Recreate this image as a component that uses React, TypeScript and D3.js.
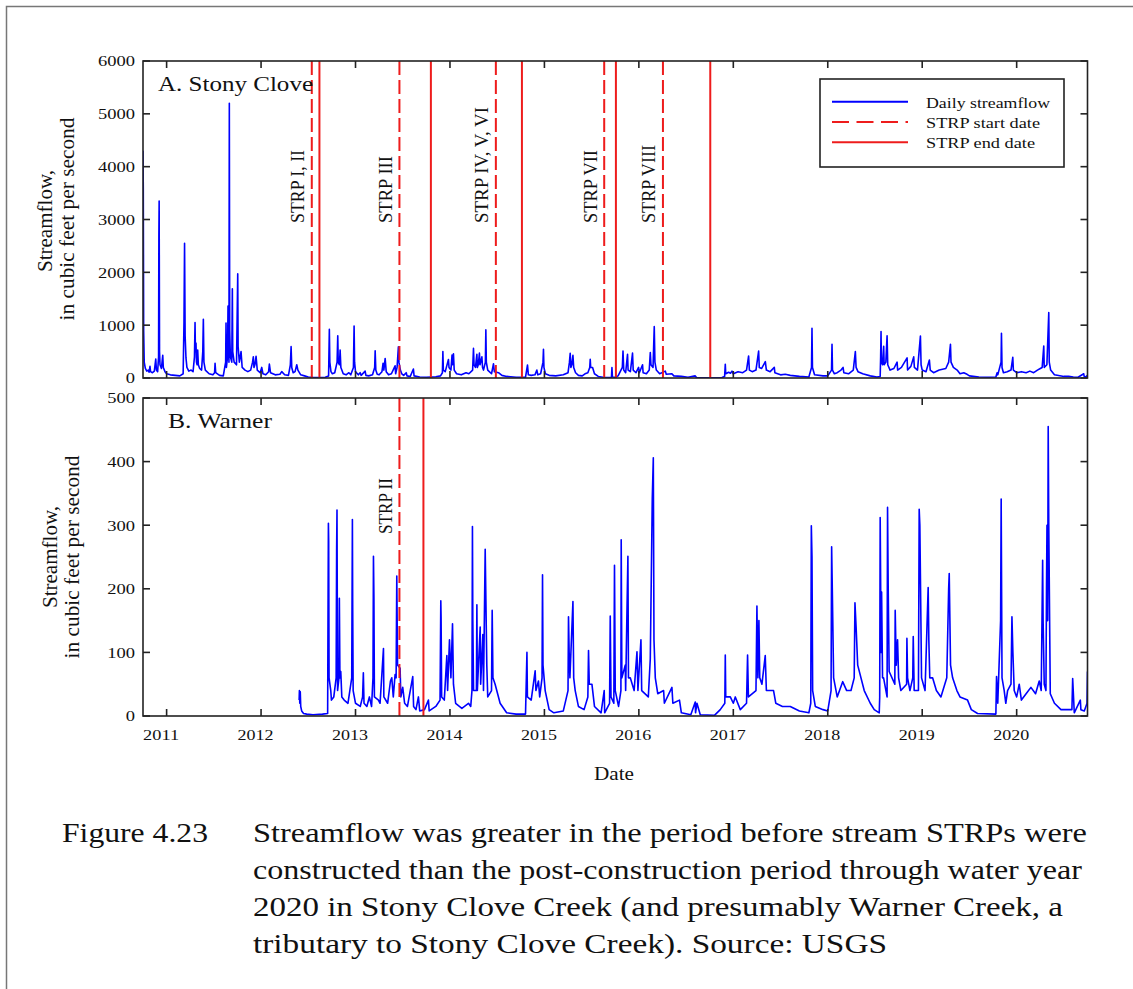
import React from 'react';
import * as d3 from 'd3';

// ---------- DATA (decimal years, cubic feet per second) ----------
const stonyClove: [number, number][] = [
  [2010.75,4300],[2010.753,3600],[2010.757,900],[2010.763,300],[2010.775,180],[2010.79,130],[2010.805,150],[2010.815,110],[2010.824,220],[2010.83,120],[2010.85,100],[2010.87,130],[2010.885,360],[2010.892,150],[2010.905,120],[2010.915,400],[2010.918,2700],[2010.921,3350],[2010.925,500],[2010.93,250],[2010.945,180],[2010.959,430],[2010.965,200],[2010.983,120],[2011.0,80],[2011.04,60],[2011.09,50],[2011.14,40],[2011.175,80],[2011.184,1050],[2011.19,2550],[2011.196,800],[2011.205,380],[2011.215,200],[2011.235,130],[2011.26,150],[2011.28,120],[2011.295,400],[2011.301,1050],[2011.305,500],[2011.311,660],[2011.316,300],[2011.323,250],[2011.329,530],[2011.336,250],[2011.35,180],[2011.37,150],[2011.383,500],[2011.389,1110],[2011.395,300],[2011.41,150],[2011.45,80],[2011.49,60],[2011.508,100],[2011.513,280],[2011.52,100],[2011.56,50],[2011.6,40],[2011.625,300],[2011.629,1040],[2011.633,200],[2011.645,400],[2011.65,1360],[2011.66,300],[2011.664,5200],[2011.668,900],[2011.675,400],[2011.69,300],[2011.696,1690],[2011.70,500],[2011.715,300],[2011.74,250],[2011.753,1970],[2011.757,600],[2011.77,300],[2011.788,500],[2011.80,200],[2011.83,150],[2011.86,120],[2011.89,150],[2011.91,300],[2011.918,400],[2011.925,200],[2011.935,250],[2011.947,410],[2011.96,150],[2011.99,100],[2012.007,200],[2012.02,80],[2012.05,60],[2012.08,120],[2012.088,265],[2012.10,100],[2012.15,60],[2012.2,70],[2012.219,120],[2012.25,60],[2012.29,50],[2012.31,250],[2012.318,593],[2012.325,200],[2012.34,100],[2012.36,120],[2012.378,250],[2012.39,150],[2012.42,60],[2012.46,40],[2012.5,20],[2012.55,12],[2012.6,10],[2012.68,15],[2012.715,40],[2012.72,600],[2012.723,920],[2012.728,300],[2012.74,120],[2012.755,80],[2012.78,100],[2012.805,300],[2012.812,800],[2012.817,300],[2012.83,250],[2012.837,530],[2012.845,200],[2012.87,80],[2012.9,60],[2012.93,100],[2012.95,60],[2012.978,200],[2012.985,985],[2012.99,300],[2013.0,120],[2013.03,60],[2013.049,100],[2013.06,50],[2013.102,130],[2013.11,50],[2013.14,40],[2013.18,60],[2013.203,200],[2013.208,517],[2013.215,150],[2013.23,70],[2013.25,60],[2013.28,120],[2013.292,280],[2013.3,150],[2013.314,370],[2013.325,120],[2013.35,60],[2013.38,80],[2013.419,230],[2013.425,80],[2013.44,200],[2013.454,590],[2013.46,300],[2013.475,150],[2013.49,80],[2013.51,50],[2013.537,100],[2013.545,40],[2013.58,30],[2013.613,170],[2013.62,40],[2013.68,20],[2013.75,15],[2013.8,20],[2013.85,25],[2013.9,40],[2013.92,100],[2013.925,500],[2013.93,150],[2013.95,120],[2013.984,350],[2013.99,200],[2014.01,150],[2014.022,435],[2014.027,250],[2014.037,460],[2014.045,150],[2014.07,80],[2014.12,60],[2014.17,100],[2014.2,80],[2014.24,150],[2014.249,560],[2014.255,250],[2014.27,200],[2014.285,450],[2014.29,200],[2014.3,250],[2014.312,470],[2014.318,250],[2014.338,400],[2014.345,200],[2014.355,150],[2014.375,300],[2014.38,910],[2014.385,300],[2014.4,150],[2014.44,80],[2014.461,270],[2014.47,120],[2014.514,100],[2014.55,50],[2014.6,30],[2014.7,15],[2014.8,15],[2014.821,246],[2014.83,60],[2014.86,50],[2014.9,60],[2014.92,150],[2014.93,60],[2014.96,80],[2014.985,300],[2014.99,543],[2014.995,200],[2015.01,80],[2015.05,50],[2015.12,40],[2015.2,60],[2015.25,100],[2015.265,300],[2015.273,467],[2015.28,200],[2015.29,250],[2015.302,430],[2015.31,200],[2015.33,100],[2015.36,50],[2015.4,40],[2015.43,80],[2015.46,100],[2015.48,200],[2015.485,354],[2015.49,200],[2015.51,200],[2015.53,80],[2015.57,30],[2015.62,15],[2015.66,10],[2015.71,15],[2015.715,200],[2015.72,20],[2015.75,15],[2015.78,40],[2015.825,200],[2015.832,511],[2015.84,150],[2015.86,100],[2015.88,450],[2015.886,150],[2015.91,120],[2015.933,470],[2015.94,150],[2015.97,100],[2015.997,200],[2016.005,100],[2016.039,250],[2016.045,100],[2016.08,80],[2016.11,150],[2016.121,480],[2016.128,250],[2016.15,200],[2016.163,972],[2016.17,300],[2016.185,150],[2016.22,80],[2016.28,130],[2016.29,70],[2016.35,80],[2016.37,40],[2016.45,30],[2016.52,15],[2016.597,40],[2016.61,10],[2016.7,5],[2016.8,5],[2016.88,10],[2016.908,30],[2016.915,260],[2016.92,80],[2016.95,110],[2016.97,90],[2016.986,130],[2017.0,80],[2017.05,120],[2017.1,100],[2017.14,150],[2017.162,417],[2017.17,150],[2017.2,120],[2017.24,150],[2017.268,511],[2017.275,200],[2017.3,180],[2017.339,310],[2017.35,150],[2017.39,120],[2017.434,200],[2017.44,100],[2017.5,60],[2017.55,70],[2017.603,50],[2017.7,30],[2017.8,20],[2017.828,200],[2017.833,941],[2017.838,200],[2017.86,60],[2017.95,40],[2018.0,40],[2018.04,150],[2018.045,637],[2018.05,150],[2018.07,80],[2018.1,100],[2018.14,150],[2018.162,200],[2018.17,100],[2018.22,80],[2018.27,150],[2018.292,500],[2018.30,200],[2018.32,120],[2018.37,80],[2018.45,40],[2018.52,20],[2018.555,30],[2018.56,400],[2018.564,880],[2018.568,300],[2018.58,250],[2018.592,600],[2018.597,250],[2018.615,300],[2018.628,800],[2018.635,250],[2018.66,150],[2018.7,180],[2018.734,300],[2018.74,150],[2018.78,200],[2018.84,380],[2018.845,150],[2018.88,220],[2018.91,400],[2018.917,200],[2018.95,150],[2018.981,795],[2018.988,250],[2019.0,150],[2019.04,120],[2019.076,340],[2019.085,150],[2019.12,100],[2019.18,150],[2019.25,180],[2019.28,300],[2019.299,637],[2019.305,300],[2019.33,200],[2019.37,150],[2019.4,80],[2019.44,100],[2019.475,70],[2019.5,40],[2019.6,20],[2019.7,15],[2019.78,20],[2019.793,100],[2019.8,60],[2019.835,300],[2019.839,846],[2019.845,200],[2019.86,100],[2019.9,120],[2019.94,150],[2019.959,392],[2019.965,150],[2020.0,100],[2020.05,120],[2020.1,100],[2020.14,130],[2020.18,100],[2020.22,150],[2020.25,180],[2020.27,200],[2020.287,606],[2020.292,200],[2020.32,250],[2020.34,1237],[2020.345,300],[2020.36,150],[2020.4,60],[2020.5,30],[2020.55,30],[2020.6,20],[2020.65,15],[2020.71,80],[2020.715,30],[2020.73,20],[2020.75,50]
];

const warner: [number, number][] = [
  [2012.403,25],[2012.406,40],[2012.41,20],[2012.415,38],[2012.42,15],[2012.43,8],[2012.45,4],[2012.484,3],[2012.55,2],[2012.65,3],[2012.705,4],[2012.71,200],[2012.713,303],[2012.716,275],[2012.72,60],[2012.738,40],[2012.745,25],[2012.77,30],[2012.795,60],[2012.8,260],[2012.804,324],[2012.81,40],[2012.825,60],[2012.829,185],[2012.835,60],[2012.844,70],[2012.855,30],[2012.88,25],[2012.92,20],[2012.96,60],[2012.967,309],[2012.97,175],[2012.975,40],[2013.0,20],[2013.05,15],[2013.075,30],[2013.083,68],[2013.09,20],[2013.12,15],[2013.147,30],[2013.17,15],[2013.185,60],[2013.19,251],[2013.195,185],[2013.2,30],[2013.243,25],[2013.26,20],[2013.296,106],[2013.3,30],[2013.34,20],[2013.37,55],[2013.384,60],[2013.4,30],[2013.419,65],[2013.43,60],[2013.437,220],[2013.445,80],[2013.472,75],[2013.48,30],[2013.5,45],[2013.52,20],[2013.55,15],[2013.606,62],[2013.615,15],[2013.64,10],[2013.666,30],[2013.68,8],[2013.73,10],[2013.772,25],[2013.78,8],[2013.85,15],[2013.895,25],[2013.903,181],[2013.906,155],[2013.912,30],[2013.94,25],[2013.967,95],[2013.975,40],[2013.995,120],[2014.01,60],[2014.027,145],[2014.037,50],[2014.06,20],[2014.126,12],[2014.196,20],[2014.22,15],[2014.233,40],[2014.238,298],[2014.242,150],[2014.25,40],[2014.28,40],[2014.285,175],[2014.29,40],[2014.32,140],[2014.325,50],[2014.348,128],[2014.355,40],[2014.373,262],[2014.39,80],[2014.40,30],[2014.44,40],[2014.447,166],[2014.455,60],[2014.478,50],[2014.531,20],[2014.6,5],[2014.7,3],[2014.8,3],[2014.815,100],[2014.82,30],[2014.86,25],[2014.902,71],[2014.91,40],[2014.937,55],[2014.95,30],[2014.975,60],[2014.98,222],[2014.985,80],[2015.008,40],[2015.05,10],[2015.1,5],[2015.2,8],[2015.25,40],[2015.255,156],[2015.262,100],[2015.27,60],[2015.302,180],[2015.31,60],[2015.326,40],[2015.36,15],[2015.42,10],[2015.46,30],[2015.467,103],[2015.475,50],[2015.503,50],[2015.53,15],[2015.6,5],[2015.633,40],[2015.638,5],[2015.69,20],[2015.697,157],[2015.705,30],[2015.735,20],[2015.742,237],[2015.75,40],[2015.785,15],[2015.81,40],[2015.813,277],[2015.82,60],[2015.856,80],[2015.86,40],[2015.884,251],[2015.89,60],[2015.909,60],[2015.95,40],[2015.98,101],[2015.99,40],[2016.022,120],[2016.03,40],[2016.1,30],[2016.121,90],[2016.142,342],[2016.153,406],[2016.16,120],[2016.174,60],[2016.2,35],[2016.262,40],[2016.27,20],[2016.35,45],[2016.36,20],[2016.43,25],[2016.45,5],[2016.55,2],[2016.597,22],[2016.6,5],[2016.615,20],[2016.65,2],[2016.8,1],[2016.862,10],[2016.91,20],[2016.915,96],[2016.92,30],[2016.968,30],[2017.0,20],[2017.021,30],[2017.074,10],[2017.14,20],[2017.151,96],[2017.16,30],[2017.24,40],[2017.25,173],[2017.26,60],[2017.271,150],[2017.28,60],[2017.303,50],[2017.338,95],[2017.35,40],[2017.426,40],[2017.45,20],[2017.52,15],[2017.603,15],[2017.7,8],[2017.8,5],[2017.82,20],[2017.826,299],[2017.833,250],[2017.84,40],[2017.868,15],[2017.95,10],[2018.0,8],[2018.035,40],[2018.041,266],[2018.048,200],[2018.062,60],[2018.1,30],[2018.158,54],[2018.2,40],[2018.246,40],[2018.28,60],[2018.288,178],[2018.3,140],[2018.317,80],[2018.386,40],[2018.45,20],[2018.492,10],[2018.545,5],[2018.55,30],[2018.555,312],[2018.565,100],[2018.57,195],[2018.58,60],[2018.591,60],[2018.628,30],[2018.633,328],[2018.64,200],[2018.65,70],[2018.71,50],[2018.714,166],[2018.725,80],[2018.739,120],[2018.75,60],[2018.774,40],[2018.835,50],[2018.838,122],[2018.845,60],[2018.87,40],[2018.9,60],[2018.905,125],[2018.915,40],[2018.96,40],[2018.968,325],[2018.975,300],[2018.993,60],[2019.03,40],[2019.063,202],[2019.07,120],[2019.08,60],[2019.11,60],[2019.15,40],[2019.198,30],[2019.26,60],[2019.28,200],[2019.286,224],[2019.3,80],[2019.322,60],[2019.367,40],[2019.4,30],[2019.48,25],[2019.52,10],[2019.586,4],[2019.78,3],[2019.787,62],[2019.8,20],[2019.83,150],[2019.836,341],[2019.845,60],[2019.868,40],[2019.885,20],[2019.904,40],[2019.94,50],[2019.95,156],[2019.96,100],[2019.974,40],[2020.0,30],[2020.027,50],[2020.05,25],[2020.1,35],[2020.151,45],[2020.2,35],[2020.239,55],[2020.26,40],[2020.275,245],[2020.28,150],[2020.292,50],[2020.31,40],[2020.316,200],[2020.321,300],[2020.328,150],[2020.334,455],[2020.34,300],[2020.356,35],[2020.4,20],[2020.469,10],[2020.54,10],[2020.585,10],[2020.593,59],[2020.61,5],[2020.674,25],[2020.68,10],[2020.716,8],[2020.745,20],[2020.75,70]
];

const stonyStrpStart = [2012.537, 2013.465, 2014.486, 2015.633, 2016.255];
const stonyStrpEnd = [2012.618, 2013.798, 2014.762, 2015.757, 2016.756];
const stonyStrpLabels = ['STRP I, II', 'STRP III', 'STRP IV, V, VI', 'STRP VII', 'STRP VIII'];
const warnerStrpStart = [2013.465];
const warnerStrpEnd = [2013.719];
const warnerStrpLabels = ['STRP II'];

const yearTicks = [2011, 2012, 2013, 2014, 2015, 2016, 2017, 2018, 2019, 2020];
const stonyYTicks = [0, 1000, 2000, 3000, 4000, 5000, 6000];
const warnerYTicks = [0, 100, 200, 300, 400, 500];
const legendLabels = ['Daily streamflow', 'STRP start date', 'STRP end date'];
const captionLabel = 'Figure 4.23';
const captionLines = [
  'Streamflow was greater in the period before stream STRPs were',
  'constructed than the post-construction period through water year',
  '2020 in Stony Clove Creek (and presumably Warner Creek, a',
  'tributary to Stony Clove Creek). Source: USGS',
];

// ---------- LAYOUT ----------
const W = 1133, H = 989;
const FONT = "'Liberation Serif', 'DejaVu Serif Condensed', 'DejaVu Serif', serif";
const BLUE = '#0000ff';
const RED = '#ee1c1c';
const left = 143, right = 1087.5;
const panels = {
  stony: { top: 61, bottom: 378 },
  warner: { top: 398, bottom: 716 },
};
const labelLen: Record<string, number> = {
  'STRP I, II': 73, 'STRP III': 67, 'STRP IV, V, VI': 116, 'STRP VII': 73, 'STRP VIII': 78, 'STRP II': 56,
};
const captionLens = [834, 829, 810, 634];
const tStyle = { fontFamily: FONT } as React.CSSProperties;

const x = d3.scaleLinear().domain([2010.75, 2020.75]).range([left, right]);

function Panel({ id, data, yMax, yTicks, top, bottom, starts, ends, labels, title, titleX, titleLen, labelEnd }: any) {
  const y = d3.scaleLinear().domain([0, yMax]).range([bottom, top]);
  const line = d3.line<[number, number]>().x(d => x(d[0])).y(d => y(d[1]));
  const tl = 7;
  return (
    <g>
      <defs>
        <clipPath id={`clip-${id}`}>
          <rect x={left} y={top} width={right - left} height={bottom - top} />
        </clipPath>
      </defs>
      <path d={line(data) || ''} fill="none" stroke={BLUE} strokeWidth={1.6} strokeLinejoin="round" clipPath={`url(#clip-${id})`} />
      {starts.map((d: number, i: number) => (
        <line key={'s' + i} x1={x(d)} x2={x(d)} y1={top} y2={bottom} stroke={RED} strokeWidth={2} strokeDasharray="14,5" />
      ))}
      {ends.map((d: number, i: number) => (
        <line key={'e' + i} x1={x(d)} x2={x(d)} y1={top} y2={bottom} stroke={RED} strokeWidth={2} />
      ))}
      {labels.map((t: string, i: number) => (
        <text key={'l' + i} transform={`translate(${x(starts[i]) - 7.5},${labelEnd}) rotate(-90)`}
          style={tStyle} fontSize={18} textLength={labelLen[t]} lengthAdjust="spacingAndGlyphs" fill="#111">{t}</text>
      ))}
      <rect x={left} y={top} width={right - left} height={bottom - top} fill="none" stroke="#222" strokeWidth={1.6} />
      {yearTicks.map(t => (
        <g key={'xt' + t}>
          <line x1={x(t)} x2={x(t)} y1={top} y2={top + tl} stroke="#222" strokeWidth={1.6} />
          <line x1={x(t)} x2={x(t)} y1={bottom} y2={bottom - tl} stroke="#222" strokeWidth={1.6} />
        </g>
      ))}
      {yTicks.map((t: number) => (
        <g key={'yt' + t}>
          <line x1={left} x2={left + tl} y1={y(t)} y2={y(t)} stroke="#222" strokeWidth={1.6} />
          <line x1={right} x2={right - tl} y1={y(t)} y2={y(t)} stroke="#222" strokeWidth={1.6} />
          <text x={135} y={y(t)} dy="0.35em" textAnchor="end" style={tStyle} fontSize={15.5}
            textLength={String(t).length * 9.25} lengthAdjust="spacingAndGlyphs" fill="#111">{t}</text>
        </g>
      ))}
      <text x={titleX} y={top + 30} style={tStyle} fontSize={21} textLength={titleLen} lengthAdjust="spacingAndGlyphs" fill="#111">{title}</text>
    </g>
  );
}

export default function App() {
  return (
    <svg width={W} height={H} style={{ position: 'absolute', left: 0, top: 0, background: '#fff' }}>
      <rect x={0} y={0} width={W} height={H} fill="#fff" />
      <rect x={6.5} y={6.5} width={1400} height={1400} fill="none" stroke="#777" strokeWidth={1.5} />

      <Panel id="stony" data={stonyClove} yMax={6000} yTicks={stonyYTicks} top={panels.stony.top} bottom={panels.stony.bottom}
        starts={stonyStrpStart} ends={stonyStrpEnd} labels={stonyStrpLabels} title="A. Stony Clove" titleX={158} titleLen={155} labelEnd={223} />
      <Panel id="warner" data={warner} yMax={500} yTicks={warnerYTicks} top={panels.warner.top} bottom={panels.warner.bottom}
        starts={warnerStrpStart} ends={warnerStrpEnd} labels={warnerStrpLabels} title="B. Warner" titleX={168} titleLen={104} labelEnd={534} />

      {yearTicks.map(t => (
        <text key={'xl' + t} x={x(t) - 5.5} y={740} textAnchor="middle" style={tStyle} fontSize={15.5}
          textLength={36} lengthAdjust="spacingAndGlyphs" fill="#111">{t}</text>
      ))}
      <text x={614} y={780} textAnchor="middle" style={tStyle} fontSize={18} textLength={40} lengthAdjust="spacingAndGlyphs" fill="#111">Date</text>

      <text transform="translate(51.5,221) rotate(-90)" textAnchor="middle" style={tStyle} fontSize={20} textLength={102} lengthAdjust="spacingAndGlyphs" fill="#111">Streamflow,</text>
      <text transform="translate(73.5,219) rotate(-90)" textAnchor="middle" style={tStyle} fontSize={20} textLength={203} lengthAdjust="spacingAndGlyphs" fill="#111">in cubic feet per second</text>
      <text transform="translate(57,557) rotate(-90)" textAnchor="middle" style={tStyle} fontSize={20} textLength={102} lengthAdjust="spacingAndGlyphs" fill="#111">Streamflow,</text>
      <text transform="translate(79,557) rotate(-90)" textAnchor="middle" style={tStyle} fontSize={20} textLength={203} lengthAdjust="spacingAndGlyphs" fill="#111">in cubic feet per second</text>

      <rect x={820} y={79} width={244} height={88} fill="#fff" stroke="#222" strokeWidth={1.6} />
      {legendLabels.map((t, i) => {
        const ly = 101.7 + i * 20.3;
        const lens = [124, 114, 109];
        return (
          <g key={'lg' + i}>
            <line x1={832} x2={908} y1={ly} y2={ly} stroke={i === 0 ? BLUE : RED} strokeWidth={2}
              strokeDasharray={i === 1 ? '17,7.5' : undefined} />
            <text x={926} y={ly + 6} style={tStyle} fontSize={15.5} textLength={lens[i]} lengthAdjust="spacingAndGlyphs" fill="#111">{t}</text>
          </g>
        );
      })}

      <text x={62} y={842} style={tStyle} fontSize={27} textLength={146} lengthAdjust="spacingAndGlyphs" fill="#111">{captionLabel}</text>
      {captionLines.map((t, i) => (
        <text key={'c' + i} x={253} y={842 + i * 37} style={tStyle} fontSize={27} textLength={captionLens[i]} lengthAdjust="spacingAndGlyphs" fill="#111">{t}</text>
      ))}
    </svg>
  );
}
